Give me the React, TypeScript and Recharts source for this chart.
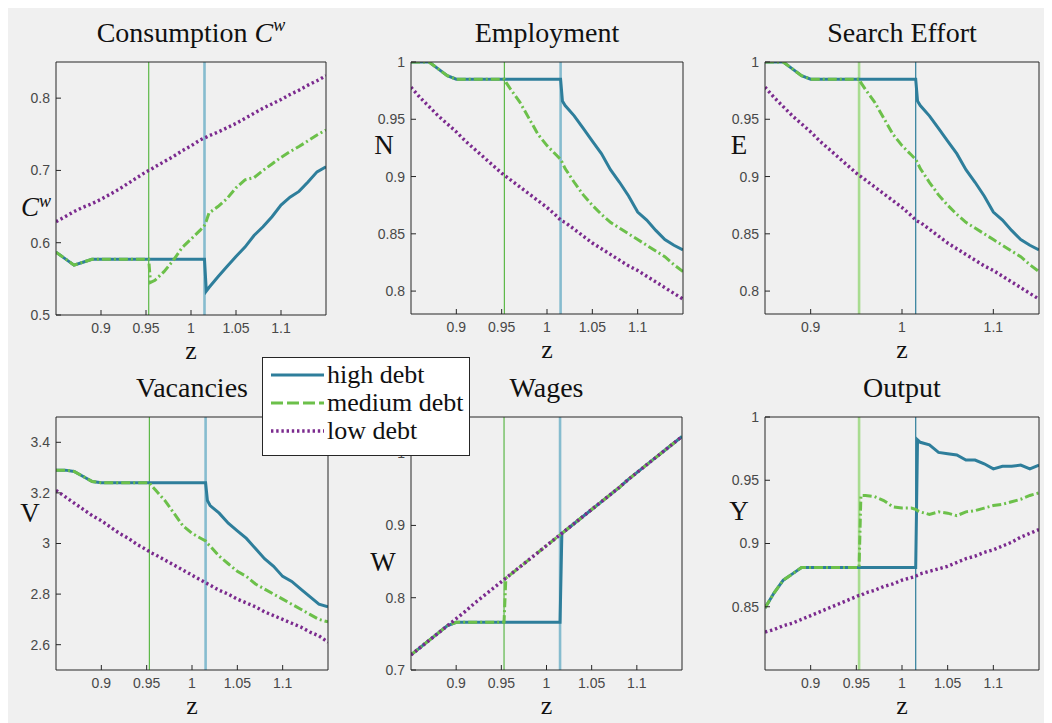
import React from 'react';
import { LineChart, Line, XAxis, YAxis, ReferenceLine } from 'recharts';

// shared productivity grid z
const zGrid = [
  0.85, 0.86, 0.87, 0.88, 0.89, 0.9, 0.91, 0.92, 0.93, 0.94, 0.95, 0.953, 0.955, 0.96, 0.97, 0.98, 0.99, 1.0,
  1.01, 1.015, 1.017, 1.02, 1.03, 1.04, 1.05, 1.06, 1.07, 1.08, 1.09, 1.1, 1.11, 1.12, 1.13, 1.14, 1.15,
];

// debt thresholds (vertical lines)
const cutoffZ = [0.953, 1.015];

const consumptionHigh = [
  0.587, 0.578, 0.569, 0.573, 0.577, 0.577, 0.577, 0.577, 0.577, 0.577, 0.577, 0.577, 0.577, 0.577, 0.577, 0.577, 0.577, 0.577,
  0.577, 0.577, 0.533, 0.538, 0.553, 0.567, 0.581, 0.594, 0.61, 0.622, 0.636, 0.652, 0.663, 0.671, 0.684, 0.698, 0.705,
];
const consumptionMedium = [
  0.587, 0.578, 0.569, 0.573, 0.577, 0.577, 0.577, 0.577, 0.577, 0.577, 0.577, 0.577, 0.545, 0.548, 0.56, 0.575, 0.593, 0.605,
  0.617, 0.624, 0.63, 0.641, 0.65, 0.661, 0.676, 0.687, 0.69, 0.7, 0.709, 0.718, 0.726, 0.733, 0.741, 0.749, 0.756,
];
const consumptionLow = [
  0.629, 0.636, 0.643, 0.649, 0.654, 0.66, 0.667, 0.674, 0.682, 0.69, 0.698, 0.7, 0.701, 0.705, 0.712, 0.719, 0.727, 0.734,
  0.742, 0.745, 0.746, 0.748, 0.753, 0.759, 0.765, 0.772, 0.779, 0.786, 0.792, 0.798, 0.805, 0.811, 0.818, 0.824, 0.831,
];

const employmentHigh = [
  1.0, 1.0, 1.0, 0.994, 0.988, 0.985, 0.985, 0.985, 0.985, 0.985, 0.985, 0.985, 0.985, 0.985, 0.985, 0.985, 0.985, 0.985,
  0.985, 0.985, 0.966, 0.962, 0.953, 0.942, 0.931, 0.92, 0.906, 0.895, 0.883, 0.869, 0.862, 0.853, 0.845, 0.84, 0.836,
];
const employmentMedium = [
  1.0, 1.0, 1.0, 0.994, 0.988, 0.985, 0.985, 0.985, 0.985, 0.985, 0.985, 0.985, 0.982, 0.976, 0.965, 0.951, 0.937, 0.927,
  0.919, 0.915, 0.912, 0.907, 0.895, 0.884, 0.875, 0.867, 0.86, 0.855, 0.85, 0.845, 0.84, 0.835, 0.83, 0.823, 0.817,
];
const employmentLow = [
  0.978, 0.969, 0.961, 0.953, 0.946, 0.939, 0.931, 0.924, 0.917, 0.91, 0.903, 0.901, 0.9, 0.897, 0.891, 0.885, 0.879, 0.873,
  0.866, 0.862, 0.861, 0.86, 0.854, 0.848, 0.842, 0.837, 0.832, 0.827, 0.822, 0.818, 0.813, 0.808, 0.803, 0.798, 0.793,
];

const effortHigh = [
  1.0, 1.0, 1.0, 0.994, 0.988, 0.985, 0.985, 0.985, 0.985, 0.985, 0.985, 0.985, 0.985, 0.985, 0.985, 0.985, 0.985, 0.985,
  0.985, 0.985, 0.966, 0.962, 0.953, 0.942, 0.931, 0.92, 0.906, 0.895, 0.883, 0.869, 0.862, 0.853, 0.845, 0.84, 0.836,
];
const effortMedium = [
  1.0, 1.0, 1.0, 0.994, 0.988, 0.985, 0.985, 0.985, 0.985, 0.985, 0.985, 0.985, 0.982, 0.976, 0.965, 0.951, 0.937, 0.927,
  0.919, 0.915, 0.912, 0.907, 0.895, 0.884, 0.875, 0.867, 0.86, 0.855, 0.85, 0.845, 0.84, 0.835, 0.83, 0.823, 0.817,
];
const effortLow = [
  0.978, 0.969, 0.961, 0.953, 0.946, 0.939, 0.931, 0.924, 0.917, 0.91, 0.903, 0.901, 0.9, 0.897, 0.891, 0.885, 0.879, 0.873,
  0.866, 0.862, 0.861, 0.86, 0.854, 0.848, 0.842, 0.837, 0.832, 0.827, 0.822, 0.818, 0.813, 0.808, 0.803, 0.798, 0.793,
];

const vacancyHigh = [
  3.29, 3.29, 3.285, 3.265, 3.245, 3.24, 3.24, 3.24, 3.24, 3.24, 3.24, 3.24, 3.24, 3.24, 3.24, 3.24, 3.24, 3.24,
  3.24, 3.24, 3.17, 3.15, 3.12, 3.08, 3.05, 3.02, 2.98, 2.94, 2.91, 2.87, 2.85, 2.82, 2.79, 2.76, 2.75,
];
const vacancyMedium = [
  3.29, 3.29, 3.285, 3.265, 3.245, 3.24, 3.24, 3.24, 3.24, 3.24, 3.24, 3.24, 3.23, 3.21, 3.17, 3.12, 3.07, 3.04,
  3.02, 3.01, 3.0, 2.99, 2.95, 2.92, 2.89, 2.87, 2.84, 2.82, 2.8, 2.78, 2.76, 2.74, 2.72, 2.7, 2.69,
];
const vacancyLow = [
  3.21, 3.185, 3.16, 3.135, 3.11, 3.09, 3.065, 3.04, 3.02, 2.995, 2.975, 2.968, 2.963, 2.955, 2.935, 2.915, 2.895, 2.875,
  2.855, 2.845, 2.841, 2.835, 2.815, 2.8, 2.78, 2.765, 2.75, 2.73, 2.715, 2.7, 2.685, 2.67, 2.65, 2.635, 2.61,
];

const wageHigh = [
  0.721, 0.731, 0.741, 0.751, 0.761, 0.766, 0.766, 0.766, 0.766, 0.766, 0.766, 0.766, 0.766, 0.766, 0.766, 0.766, 0.766, 0.766,
  0.766, 0.766, 0.889, 0.892, 0.902, 0.912, 0.922, 0.932, 0.942, 0.952, 0.963, 0.973, 0.983, 0.993, 1.003, 1.013, 1.023,
];
const wageMedium = [
  0.721, 0.731, 0.741, 0.751, 0.761, 0.766, 0.766, 0.766, 0.766, 0.766, 0.766, 0.766, 0.827, 0.832, 0.842, 0.852, 0.862, 0.872,
  0.882, 0.887, 0.889, 0.892, 0.902, 0.912, 0.922, 0.932, 0.942, 0.952, 0.963, 0.973, 0.983, 0.993, 1.003, 1.013, 1.023,
];
const wageLow = [
  0.721, 0.731, 0.741, 0.751, 0.761, 0.771, 0.781, 0.792, 0.802, 0.812, 0.822, 0.825, 0.827, 0.832, 0.842, 0.852, 0.862, 0.872,
  0.882, 0.887, 0.889, 0.892, 0.902, 0.912, 0.922, 0.932, 0.942, 0.952, 0.963, 0.973, 0.983, 0.993, 1.003, 1.013, 1.023,
];

const outputHigh = [
  0.849, 0.861, 0.871, 0.876, 0.881, 0.881, 0.881, 0.881, 0.881, 0.881, 0.881, 0.881, 0.881, 0.881, 0.881, 0.881, 0.881, 0.881,
  0.881, 0.881, 0.982, 0.98, 0.978, 0.972, 0.971, 0.97, 0.966, 0.966, 0.963, 0.959, 0.961, 0.961, 0.962, 0.959, 0.962,
];
const outputMedium = [
  0.849, 0.861, 0.871, 0.876, 0.881, 0.881, 0.881, 0.881, 0.881, 0.881, 0.881, 0.881, 0.938, 0.938, 0.937, 0.934, 0.929, 0.928,
  0.928, 0.927, 0.926, 0.925, 0.923, 0.925, 0.924, 0.922, 0.925, 0.926, 0.928, 0.93, 0.931, 0.933, 0.935, 0.938, 0.94,
];
const outputLow = [
  0.83, 0.832, 0.835, 0.837, 0.84, 0.843, 0.846, 0.849, 0.852, 0.855, 0.858, 0.859, 0.859, 0.861, 0.863, 0.866, 0.868, 0.871,
  0.873, 0.874, 0.875, 0.876, 0.878, 0.88, 0.882, 0.885, 0.888, 0.89, 0.893, 0.895, 0.898, 0.901, 0.905, 0.908, 0.911,
];

const zTicksFull = [0.9, 0.95, 1, 1.05, 1.1];
const zTicksSparse = [0.9, 1, 1.1];

const SERIF = "'Liberation Serif', 'DejaVu Serif', serif";
const SANS = "'Liberation Sans', Arial, sans-serif";
const BLUE = '#2e7e9b';
const GREEN = '#6cc04a';
const PURPLE = '#7b2a8e';

const series = [
  { key: 'high', name: 'high debt', color: BLUE, dash: undefined, legendDash: undefined, width: 3 },
  { key: 'medium', name: 'medium debt', color: GREEN, dash: '9 3 2 3', legendDash: '12 4', width: 3 },
  { key: 'low', name: 'low debt', color: PURPLE, dash: '2.4 2.8', legendDash: '2.4 2.8', width: 3.4 },
];

// vertical cutoff line styles: "a" = thin green / wide light blue, "b" = wide light green / thin blue
const cutStyles = {
  a: [
    { color: '#5cb848', width: 1.2 },
    { color: '#86bccf', width: 2.6 },
  ],
  b: [
    { color: '#a8dc90', width: 2.6 },
    { color: BLUE, width: 1.2 },
  ],
};

const panels = [
  {
    title: 'consumption', high: consumptionHigh, medium: consumptionMedium, low: consumptionLow,
    left: 56, top: 62, w: 270, h: 253, yDomain: [0.5, 0.85], yTicks: [0.5, 0.6, 0.7, 0.8], xTicks: zTicksFull,
    cut: 'a', yl: 'Cw', ylx: 36, yly: 208,
  },
  {
    title: 'Employment', high: employmentHigh, medium: employmentMedium, low: employmentLow,
    left: 411, top: 62, w: 272, h: 252, yDomain: [0.78, 1], yTicks: [0.8, 0.85, 0.9, 0.95, 1], xTicks: zTicksFull,
    cut: 'a', yl: 'N', ylx: 384, yly: 146,
  },
  {
    title: 'Search Effort', high: effortHigh, medium: effortMedium, low: effortLow,
    left: 765, top: 62, w: 274, h: 252, yDomain: [0.78, 1], yTicks: [0.8, 0.85, 0.9, 0.95, 1], xTicks: zTicksSparse,
    cut: 'b', yl: 'E', ylx: 739, yly: 146,
  },
  {
    title: 'Vacancies', high: vacancyHigh, medium: vacancyMedium, low: vacancyLow,
    left: 56, top: 417, w: 272, h: 253, yDomain: [2.5, 3.5], yTicks: [2.6, 2.8, 3, 3.2, 3.4], xTicks: zTicksFull,
    cut: 'a', yl: 'V', ylx: 30, yly: 514,
  },
  {
    title: 'Wages', high: wageHigh, medium: wageMedium, low: wageLow,
    left: 411, top: 417, w: 271, h: 253, yDomain: [0.7, 1.05], yTicks: [0.7, 0.8, 0.9, 1], xTicks: zTicksFull,
    cut: 'a', yl: 'W', ylx: 383, yly: 563,
  },
  {
    title: 'Output', high: outputHigh, medium: outputMedium, low: outputLow,
    left: 765, top: 417, w: 274, h: 253, yDomain: [0.8, 1], yTicks: [0.85, 0.9, 0.95, 1], xTicks: zTicksFull,
    cut: 'b', yl: 'Y', ylx: 739, yly: 512,
  },
];

const OFF = 8; // body margin
const tickText = { fill: '#484848', fontSize: 14, fontFamily: SANS };
const axisStroke = { stroke: '#262626', strokeWidth: 1 };

const centered = (x: number, y: number, size: number): React.CSSProperties => ({
  position: 'absolute',
  left: x - OFF,
  top: y - OFF,
  transform: 'translate(-50%, -50%)',
  fontFamily: SERIF,
  fontSize: size,
  color: '#111',
  whiteSpace: 'nowrap',
  lineHeight: 1,
});

const supStyle: React.CSSProperties = { fontSize: 18, verticalAlign: 'top', position: 'relative', top: -3 };

function Panel({ p }: { p: any }) {
  const rows = zGrid.map((z, i) => ({ z, high: p.high[i], medium: p.medium[i], low: p.low[i] }));
  const zDomain = [0.85, 1.15];
  const cs = cutStyles[p.cut as 'a' | 'b'];
  return (
    <>
      <div style={{ position: 'absolute', left: p.left - OFF - 60, top: p.top - OFF - 10 }}>
        <LineChart width={p.w + 70} height={p.h + 50} data={rows} margin={{ top: 10, right: 10, bottom: 10, left: 0 }}>
          <XAxis dataKey="z" type="number" domain={zDomain} ticks={p.xTicks} interval={0} height={30}
            tickSize={-5} tickMargin={13} tick={tickText} axisLine={axisStroke} tickLine={axisStroke} allowDataOverflow />
          <XAxis xAxisId="top" orientation="top" mirror type="number" domain={zDomain} ticks={p.xTicks} interval={0}
            tick={false} tickSize={5} axisLine={axisStroke} tickLine={axisStroke} allowDataOverflow />
          <YAxis type="number" domain={p.yDomain} ticks={p.yTicks} interval={0} width={60}
            tickSize={-5} tickMargin={11} tick={tickText} axisLine={axisStroke} tickLine={axisStroke} allowDataOverflow />
          <YAxis yAxisId="right" orientation="right" mirror type="number" domain={p.yDomain} ticks={p.yTicks} interval={0}
            tick={false} tickSize={5} axisLine={axisStroke} tickLine={axisStroke} allowDataOverflow />
          {cutoffZ.map((c, i) => (
            <ReferenceLine key={c} x={c} stroke={cs[i].color} strokeWidth={cs[i].width} />
          ))}
          {series.map((s) => (
            <Line key={s.key} dataKey={s.key} name={s.name} type="linear" stroke={s.color} strokeWidth={s.width}
              strokeDasharray={s.dash} dot={false} activeDot={false} isAnimationActive={false} />
          ))}
        </LineChart>
      </div>
      <div style={centered(p.left + p.w / 2, p.top - 29, 28)}>
        {p.title === 'consumption' ? (
          <span>
            Consumption <i>C</i>
            <sup style={supStyle}><i>w</i></sup>
          </span>
        ) : (
          p.title
        )}
      </div>
      <div style={{ ...centered(p.ylx, p.yly, 27), lineHeight: 0.8 }}>
        {p.yl === 'Cw' ? (
          <span>
            <i>C</i>
            <sup style={supStyle}><i>w</i></sup>
          </span>
        ) : (
          p.yl
        )}
      </div>
      <div style={{ ...centered(p.left + p.w / 2, p.top + p.h + 36, 26), lineHeight: 0.8 }}>z</div>
    </>
  );
}

function LegendBox() {
  return (
    <div style={{
      position: 'absolute', left: 262 - OFF, top: 357 - OFF, width: 206, height: 97, background: '#fff',
      border: '1px solid #262626', fontFamily: SERIF, fontSize: 26, color: '#111',
    }}>
      {series.map((s, i) => (
        <div key={s.key} style={{ position: 'absolute', left: 0, top: 3 + i * 28, height: 28, display: 'flex', alignItems: 'center' }}>
          <svg width={64} height={28} style={{ display: 'block' }}>
            <line x1={8} x2={61} y1={14} y2={14} stroke={s.color} strokeWidth={s.width} strokeDasharray={s.legendDash} />
          </svg>
          <span style={{ lineHeight: 1 }}>{s.name}</span>
        </div>
      ))}
    </div>
  );
}

export default function App() {
  return (
    <div style={{ position: 'relative', width: 1038, height: 715, background: '#f0f0f0', overflow: 'hidden' }}>
      {panels.map((p) => (
        <Panel key={p.title} p={p} />
      ))}
      <LegendBox />
    </div>
  );
}
